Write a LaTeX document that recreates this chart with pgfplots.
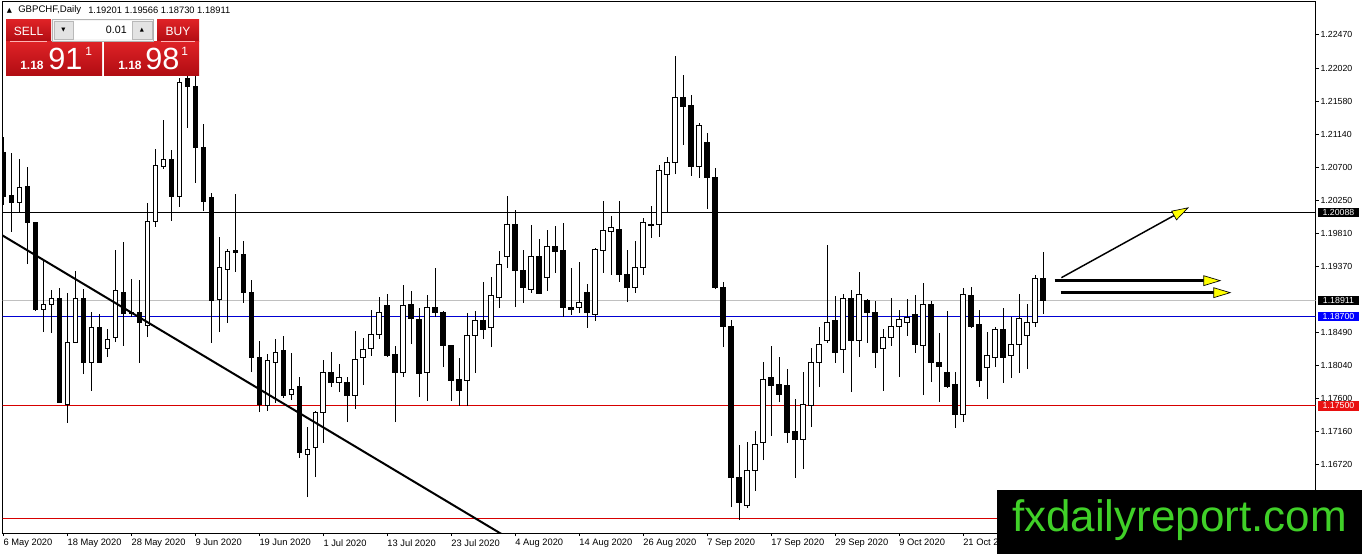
\documentclass[border=0pt]{standalone}
\usepackage{fontspec}
\setmainfont{Liberation Sans}
\newfontfamily\symfont{DejaVu Sans}
\usepackage{pgfplots}
\usepackage{pgfplotstable}
\pgfplotsset{compat=1.18}
\usetikzlibrary{arrows.meta}

\definecolor{lineblue}{RGB}{0,0,210}
\definecolor{boxblue}{RGB}{0,0,255}
\definecolor{linered}{RGB}{215,0,0}
\definecolor{boxred}{RGB}{232,16,16}
\definecolor{pricegrey}{RGB}{192,192,192}
\definecolor{arrowyellow}{RGB}{255,255,0}
\definecolor{paneltop}{RGB}{222,34,38}
\definecolor{panelbot}{RGB}{176,12,18}
\definecolor{logogreen}{RGB}{64,208,40}

% GBPCHF daily, one row per trading day from 6 May 2020 (i = bar number)
\pgfplotstableread{
i o h l c
0 1.20902 1.21103 1.20192 1.20299
1 1.20313 1.20889 1.19830 1.20219
2 1.20219 1.20808 1.20085 1.20420
3 1.20433 1.20701 1.19401 1.19951
4 1.19951 1.19964 1.18772 1.18798
5 1.18798 1.19455 1.18490 1.18865
6 1.18865 1.19053 1.18477 1.18946
7 1.18946 1.19080 1.17539 1.17552
8 1.17525 1.19013 1.17271 1.18356
9 1.18356 1.19308 1.18343 1.18933
10 1.18933 1.19066 1.17927 1.18075
11 1.18075 1.18758 1.17700 1.18544
12 1.18544 1.18731 1.18075 1.18088
13 1.18276 1.18530 1.18155 1.18396
14 1.18410 1.19589 1.18356 1.19040
15 1.19026 1.19696 1.18303 1.18731
16 1.18731 1.19201 1.18691 1.18758
17 1.18758 1.19187 1.18075 1.18611
18 1.18571 1.20219 1.18423 1.19964
19 1.19964 1.20942 1.19897 1.20715
20 1.20701 1.21331 1.20674 1.20795
21 1.20795 1.20929 1.19978 1.20299
22 1.20299 1.21894 1.20165 1.21827
23 1.21894 1.21974 1.21224 1.21773
24 1.21787 1.21934 1.20487 1.20956
25 1.20956 1.21277 1.20112 1.20232
26 1.20286 1.20353 1.18343 1.18906
27 1.18919 1.19763 1.18490 1.19361
28 1.19334 1.19602 1.18611 1.19562
29 1.19576 1.20339 1.19294 1.19549
30 1.19535 1.19710 1.18879 1.19026
31 1.19026 1.19187 1.17954 1.18155
32 1.18142 1.18370 1.17418 1.17525
33 1.17499 1.18195 1.17432 1.18102
34 1.18088 1.18396 1.17539 1.18222
35 1.18236 1.18437 1.17606 1.17646
36 1.17659 1.18209 1.17579 1.17726
37 1.17753 1.17887 1.16802 1.16869
38 1.16855 1.17217 1.16279 1.16922
39 1.16936 1.17432 1.16547 1.17405
40 1.17405 1.18115 1.17003 1.17954
41 1.17954 1.18222 1.17753 1.17807
42 1.17820 1.18061 1.17686 1.17887
43 1.17807 1.17887 1.17284 1.17633
44 1.17633 1.18504 1.17458 1.18128
45 1.18155 1.18410 1.17780 1.18262
46 1.18276 1.18785 1.18169 1.18463
47 1.18450 1.18959 1.18396 1.18745
48 1.18839 1.18999 1.18155 1.18169
49 1.18182 1.18303 1.17284 1.17954
50 1.17954 1.19120 1.17887 1.18839
51 1.18852 1.19040 1.18329 1.18664
52 1.18651 1.18812 1.17619 1.17927
53 1.17954 1.18986 1.17566 1.18825
54 1.18825 1.19348 1.18691 1.18745
55 1.18745 1.18772 1.18021 1.18303
56 1.18303 1.18316 1.17566 1.17834
57 1.17847 1.18142 1.17499 1.17700
58 1.17834 1.18745 1.17499 1.18437
59 1.18437 1.18772 1.17941 1.18638
60 1.18638 1.19160 1.18396 1.18530
61 1.18544 1.19227 1.18289 1.18973
62 1.18959 1.19576 1.18812 1.19388
63 1.19495 1.20313 1.19348 1.19937
64 1.19937 1.20125 1.18825 1.19308
65 1.19321 1.19589 1.18879 1.19080
66 1.19066 1.19924 1.19013 1.19495
67 1.19495 1.19736 1.18999 1.19013
68 1.19214 1.19857 1.19040 1.19629
69 1.19629 1.19911 1.19281 1.19562
70 1.19576 1.19951 1.18691 1.18825
71 1.18825 1.19348 1.18718 1.18798
72 1.18812 1.19428 1.18745 1.18879
73 1.19026 1.19133 1.18544 1.18745
74 1.18718 1.19616 1.18638 1.19589
75 1.19576 1.20246 1.19281 1.19844
76 1.19830 1.20045 1.19254 1.19884
77 1.19870 1.20246 1.19160 1.19268
78 1.19268 1.19589 1.18892 1.19080
79 1.19093 1.19710 1.19013 1.19348
80 1.19361 1.20018 1.19254 1.19951
81 1.19937 1.20179 1.19750 1.19924
82 1.19937 1.20728 1.19763 1.20648
83 1.20607 1.20835 1.20085 1.20755
84 1.20755 1.22189 1.20607 1.21639
85 1.21639 1.21934 1.20996 1.21505
86 1.21519 1.21666 1.20581 1.20701
87 1.20701 1.21291 1.20554 1.21251
88 1.21023 1.21157 1.20138 1.20554
89 1.20554 1.20688 1.19066 1.19080
90 1.19093 1.19160 1.18289 1.18557
91 1.18557 1.18651 1.16145 1.16547
92 1.16547 1.16976 1.15971 1.16212
93 1.16159 1.17016 1.16132 1.16628
94 1.16641 1.17164 1.16360 1.16989
95 1.17003 1.18088 1.16775 1.17860
96 1.17874 1.18303 1.17097 1.17767
97 1.17780 1.18155 1.17552 1.17659
98 1.17767 1.17994 1.17003 1.17137
99 1.17151 1.17592 1.16534 1.17056
100 1.17056 1.17954 1.16654 1.17512
101 1.17499 1.18276 1.17217 1.18075
102 1.18088 1.18557 1.17753 1.18329
103 1.18370 1.19656 1.18343 1.18624
104 1.18638 1.18973 1.18075 1.18222
105 1.18249 1.18999 1.17941 1.18946
106 1.18946 1.19053 1.17686 1.18370
107 1.18370 1.19294 1.18155 1.18999
108 1.18906 1.18933 1.18343 1.18745
109 1.18745 1.18906 1.18008 1.18222
110 1.18276 1.18530 1.17700 1.18423
111 1.18423 1.18946 1.18303 1.18557
112 1.18557 1.18785 1.17887 1.18651
113 1.18624 1.18933 1.18437 1.18691
114 1.18718 1.18986 1.18209 1.18329
115 1.18303 1.19147 1.17646 1.18865
116 1.18865 1.18906 1.17820 1.18075
117 1.18088 1.18477 1.17552 1.18035
118 1.17954 1.18772 1.17740 1.17753
119 1.17780 1.17954 1.17204 1.17391
120 1.17391 1.19080 1.17284 1.18986
121 1.18973 1.19093 1.18544 1.18557
122 1.18584 1.18785 1.17753 1.17834
123 1.18021 1.18490 1.17592 1.18169
124 1.18155 1.18557 1.18021 1.18530
125 1.18530 1.18812 1.17807 1.18155
126 1.18169 1.18691 1.17874 1.18316
127 1.18316 1.18999 1.17941 1.18664
128 1.18437 1.18865 1.17994 1.18624
129 1.18624 1.19254 1.18557 1.19201
130 1.19201 1.19566 1.18730 1.18911
}\candles
\pgfplotstablegetrowsof{\candles}
\pgfmathtruncatemacro\lastrow{\pgfplotsretval-1}

\pgfplotsset{candle/.style={draw=black, line width=0.75pt, mark=none, solid}}
\tikzset{pricebox/.style={anchor=west, xshift=1.5pt, text=white, inner sep=0pt,
    minimum width=30.75pt, minimum height=7pt, font=\fontsize{6.6}{7}\selectfont}}

\begin{document}
\begin{tikzpicture}
\fill[white] (0,0) rectangle (1021.5pt,415.5pt);
\path[use as bounding box] (0,0) rectangle (1021.5pt,415.5pt);
\begin{axis}[
  at={(2.025pt,15.75pt)}, anchor=south west,
  scale only axis, width=984.75pt, height=398.5pt,
  xmin=-0.08, xmax=164.1,
  ymin=1.15797, ymax=1.22916,
  clip mode=individual,
  axis line style={black, line width=0.75pt},
  every tick/.style={black, line width=0.75pt},
  tick align=outside, major tick length=2.25pt,
  xtick pos=bottom, ytick pos=right, yticklabel pos=right,
  xtick={0,8,...,120},
  xticklabels={6 May 2020,18 May 2020,28 May 2020,9 Jun 2020,19 Jun 2020,1 Jul 2020,13 Jul 2020,23 Jul 2020,4 Aug 2020,14 Aug 2020,26 Aug 2020,7 Sep 2020,17 Sep 2020,29 Sep 2020,9 Oct 2020,21 Oct 2020},
  ytick={1.16720,1.17160,1.17600,1.18040,1.18490,1.19370,1.19810,1.20250,1.20700,1.21140,1.21580,1.22020,1.22470},
  yticklabels={1.16720,1.17160,1.17600,1.18040,1.18490,1.19370,1.19810,1.20250,1.20700,1.21140,1.21580,1.22020,1.22470},
  xticklabel style={anchor=north west, inner sep=0pt, yshift=-2.25pt, font=\fontsize{7}{8}\selectfont},
  yticklabel style={anchor=west, inner sep=0pt, xshift=1.2pt, font=\fontsize{6.6}{7}\selectfont},
]
% level lines
\addplot[black, line width=0.75pt] coordinates {(-1,1.20088) (170,1.20088)};
\addplot[pricegrey, line width=0.75pt] coordinates {(-1,1.18911) (170,1.18911)};
\addplot[lineblue, line width=0.75pt] coordinates {(-1,1.18700) (170,1.18700)};
\addplot[linered, line width=0.75pt] coordinates {(-1,1.17500) (170,1.17500)};
\addplot[linered, line width=0.75pt] coordinates {(-1,1.15990) (170,1.15990)};

% candles: wick from low to high, body between open and close
\pgfplotsforeachungrouped \rowidx in {0,...,\lastrow}{
  \pgfplotstablegetelem{\rowidx}{i}\of\candles \let\vi\pgfplotsretval
  \pgfplotstablegetelem{\rowidx}{o}\of\candles \let\vo\pgfplotsretval
  \pgfplotstablegetelem{\rowidx}{h}\of\candles \let\vh\pgfplotsretval
  \pgfplotstablegetelem{\rowidx}{l}\of\candles \let\vl\pgfplotsretval
  \pgfplotstablegetelem{\rowidx}{c}\of\candles \let\vc\pgfplotsretval
  \pgfmathsetmacro\vlo{min(\vo,\vc)}
  \pgfmathsetmacro\vhi{max(\vo,\vc)}
  \pgfmathsetmacro\xa{\vi-0.28}
  \pgfmathsetmacro\xb{\vi+0.28}
  \pgfmathtruncatemacro\isup{\vc>=\vo}
  \ifnum\isup=1 \def\vfill{white}\else\def\vfill{black}\fi
  \edef\doplot{%
    \noexpand\addplot[candle] coordinates {(\vi,\vl) (\vi,\vh)};
    \noexpand\addplot[candle, fill=\vfill] coordinates {(\xa,\vlo) (\xb,\vlo) (\xb,\vhi) (\xa,\vhi)} -- cycle;}
  \doplot
}

% trend line and arrows
\addplot[black, line width=1.5pt] coordinates {(-1,1.19841) (62.5,1.15770)};
\addplot[black, line width=1.1pt, -{Triangle[length=13pt,width=8pt,fill=arrowyellow,line width=0.5pt]}]
  coordinates {(132.3,1.19218) (148.25,1.20161)};
\addplot[black, line width=2.1pt, -{Triangle[length=13.5pt,width=8pt,fill=arrowyellow,line width=0.5pt]}]
  coordinates {(131.46,1.19178) (152.3,1.19178)};
\addplot[black, line width=2.1pt, -{Triangle[length=13.5pt,width=8pt,fill=arrowyellow,line width=0.5pt]}]
  coordinates {(132.2,1.19017) (153.55,1.19017)};

% price tags on the right scale
\node[pricebox, fill=black] at (axis cs:164.1,1.20088) {1.20088};
\node[pricebox, fill=black] at (axis cs:164.1,1.18911) {1.18911};
\node[pricebox, fill=boxblue] at (axis cs:164.1,1.18700) {1.18700};
\node[pricebox, fill=boxred] at (axis cs:164.1,1.17500) {1.17500};
\end{axis}

\begin{scope}[x=0.75pt, y=-0.75pt, shift={(0pt,415.5pt)}, every node/.style={inner sep=0pt}]
% header
\node[font=\symfont\fontsize{5}{6}\selectfont] at (9.5,11) {▲};
\node[anchor=west, font=\fontsize{7.2}{8}\selectfont] at (18,10) {GBPCHF,Daily};
\node[anchor=west, font=\fontsize{7}{8}\selectfont] at (88,10) {1.19201 1.19566 1.18730 1.18911};
% one-click trading panel
\shade[top color=paneltop, bottom color=panelbot] (6,20) rectangle (51,42);
\shade[top color=paneltop, bottom color=panelbot] (157,20) rectangle (199,42);
\shade[top color=paneltop, bottom color=panelbot] (6,42) rectangle (102,76);
\shade[top color=paneltop, bottom color=panelbot] (104,42) rectangle (199,76);
\draw[white!70!red, line width=0.5pt] (10,41.5) -- (47,41.5);
\draw[white!70!red, line width=0.5pt] (161,41.5) -- (195,41.5);
\node[text=white, font=\fontsize{9}{10}\selectfont] at (28.5,31) {SELL};
\node[text=white, font=\fontsize{9}{10}\selectfont] at (178,31) {BUY};
\draw[gray!60, fill=gray!8] (52,19) rectangle (153,41);
\draw[gray!55, fill=gray!22] (54,21) rectangle (73,39);
\fill[white] (73.5,21) rectangle (131.5,39);
\draw[gray!55, fill=gray!22] (132,21) rectangle (152,39);
\node[font=\symfont\fontsize{4}{5}\selectfont] at (63.5,30) {▼};
\node[font=\symfont\fontsize{4}{5}\selectfont] at (142,30) {▲};
\node[anchor=east, font=\fontsize{8}{9}\selectfont] at (127,30) {0.01};
\node[anchor=base west, text=white, font=\bfseries\fontsize{9}{10}\selectfont] at (20,70) {1.18};
\node[anchor=base west, text=white, font=\fontsize{23}{24}\selectfont] at (48,70) {91};
\node[anchor=base west, text=white, font=\fontsize{9}{10}\selectfont] at (85,56) {1};
\node[anchor=base west, text=white, font=\bfseries\fontsize{9}{10}\selectfont] at (118,70) {1.18};
\node[anchor=base west, text=white, font=\fontsize{23}{24}\selectfont] at (145,70) {98};
\node[anchor=base west, text=white, font=\fontsize{9}{10}\selectfont] at (181,56) {1};
% watermark
\fill[black] (997,490) rectangle (1362,554);
\node[anchor=base, text=logogreen, font=\fontsize{33}{36}\selectfont] at (1179.5,531.5) {fxdailyreport.com};
\end{scope}
\end{tikzpicture}
\end{document}
